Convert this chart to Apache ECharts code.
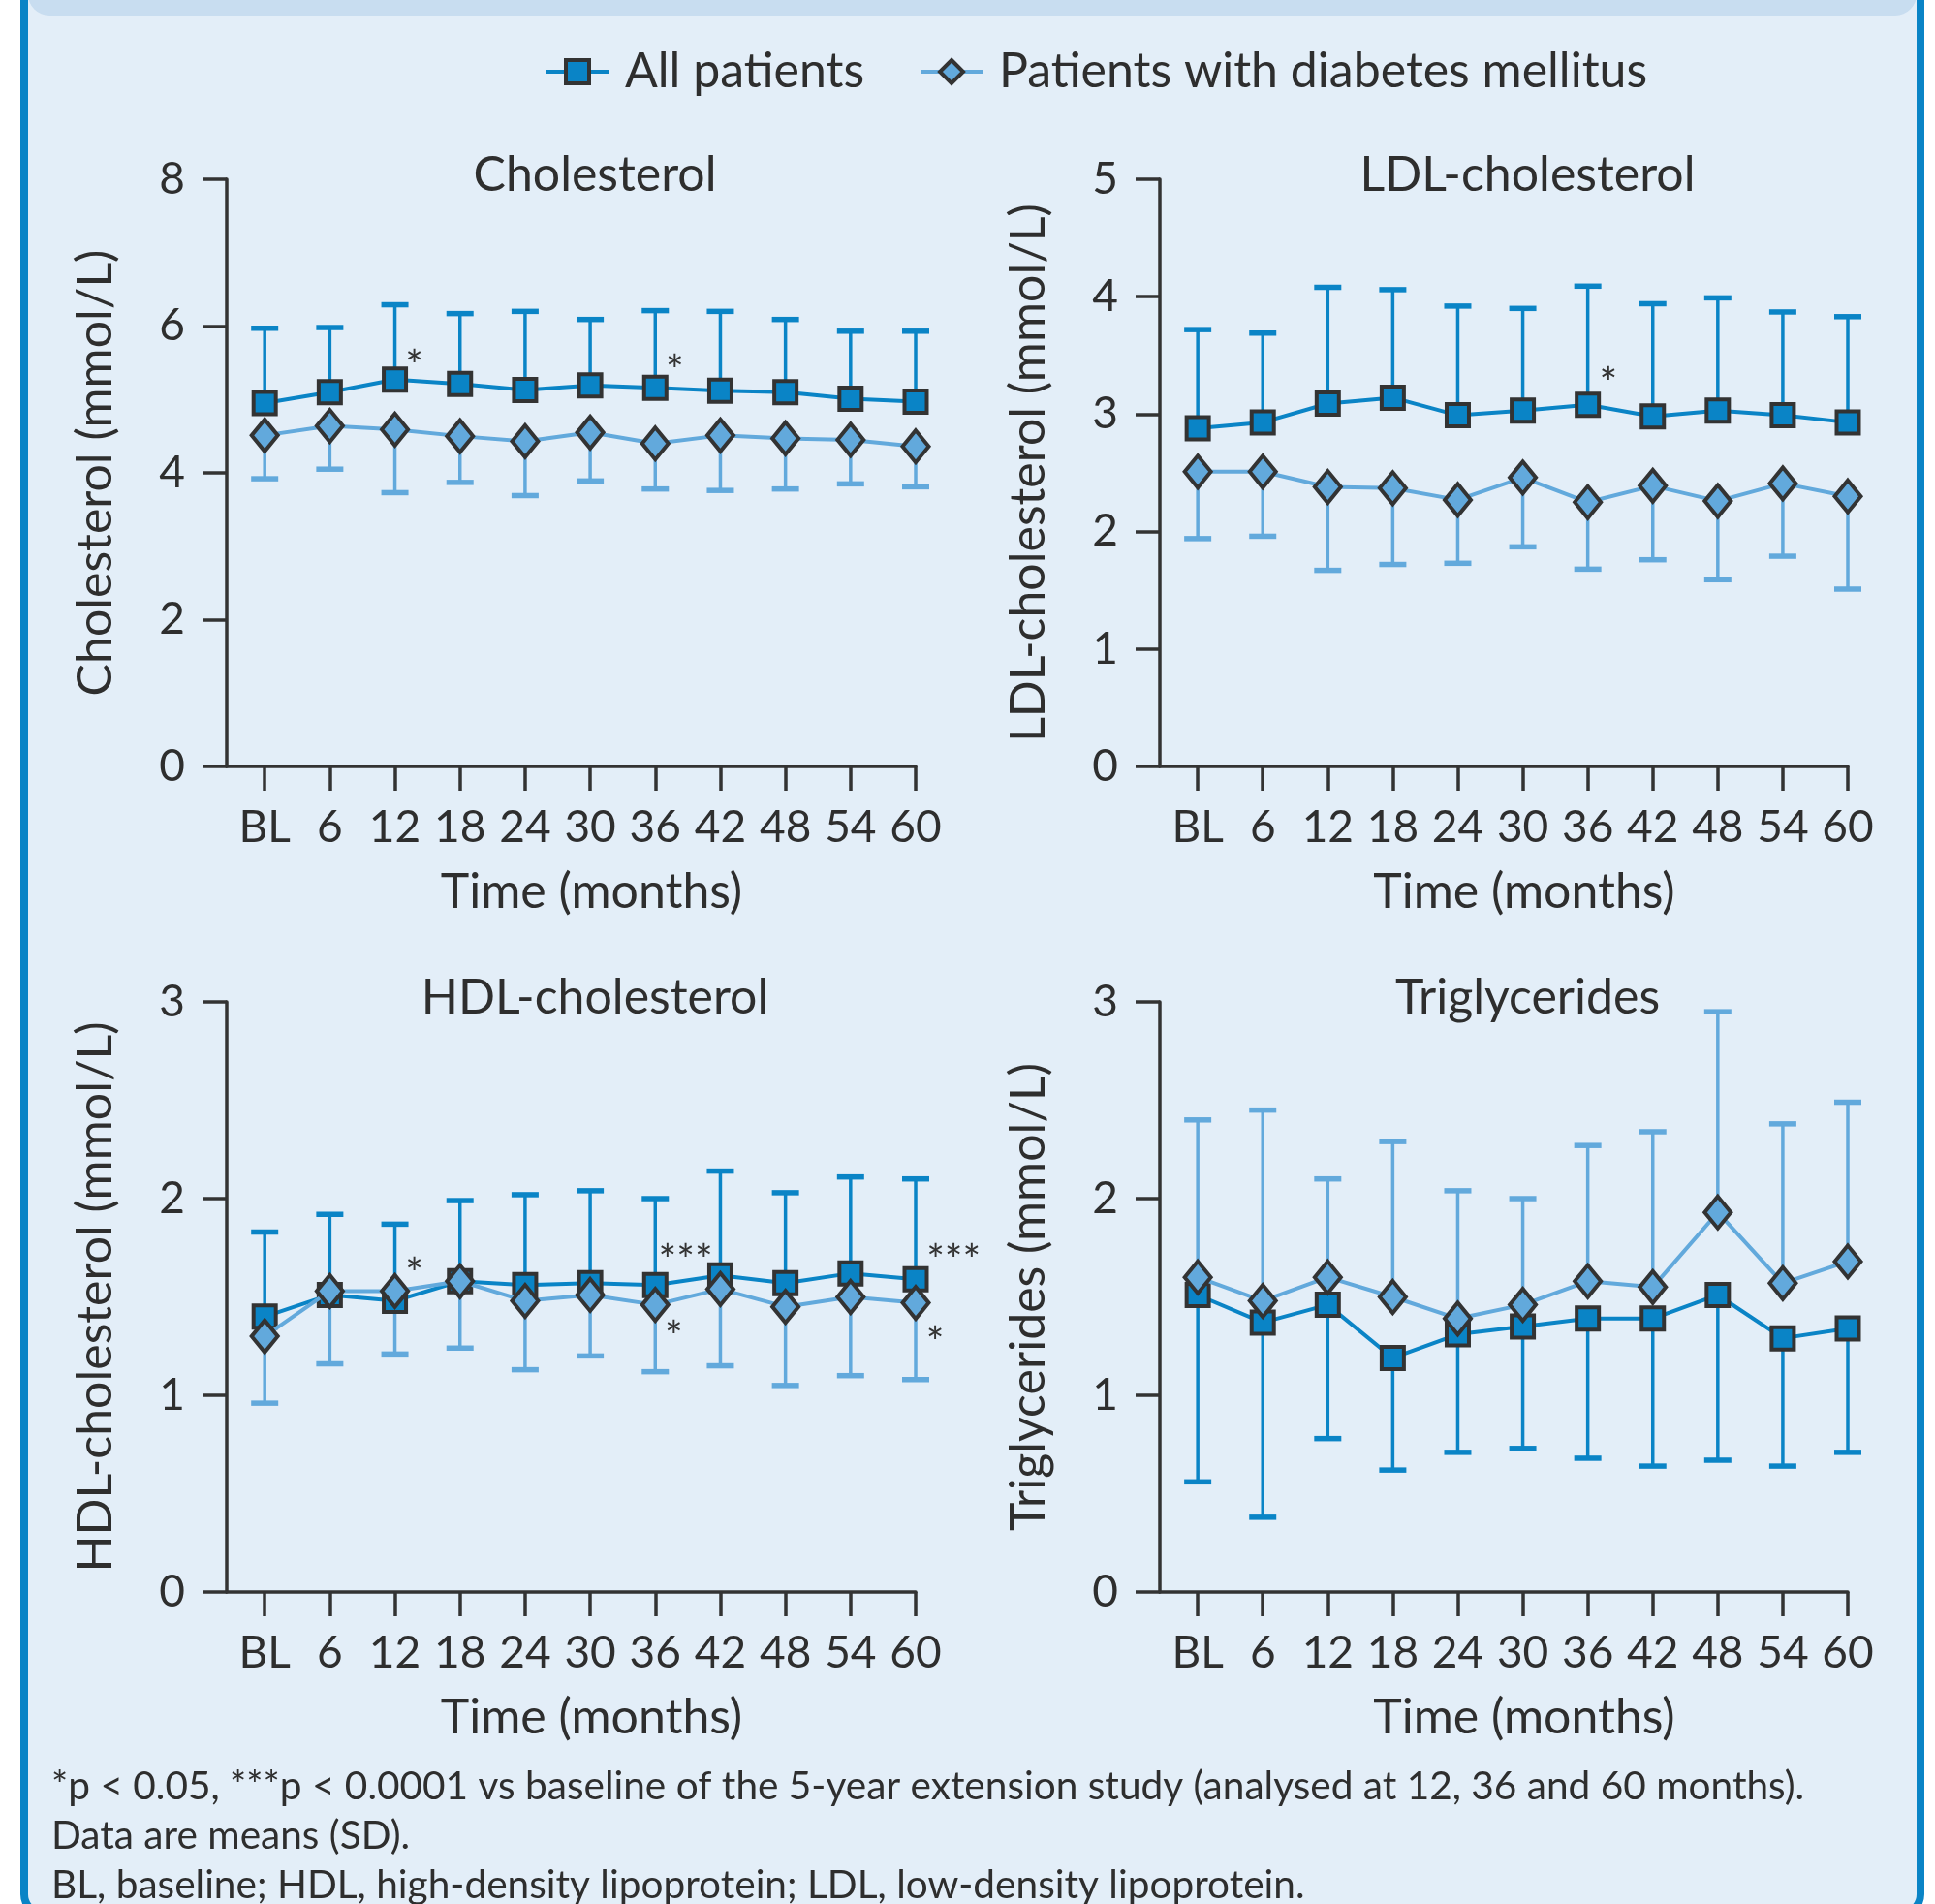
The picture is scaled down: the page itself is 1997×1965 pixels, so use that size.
<!DOCTYPE html>
<html><head><meta charset="utf-8">
<script src="https://cdn.jsdelivr.net/npm/echarts@6/dist/echarts.min.js"></script>
<style>html,body{margin:0;padding:0;background:#fff}#c{width:1997px;height:1965px}</style>
</head><body><div id="c"></div>
<script>
// ---- data ----
const months = [0, 6, 12, 18, 24, 30, 36, 42, 48, 54, 60];
const tickLabels = ['BL', '6', '12', '18', '24', '30', '36', '42', '48', '54', '60'];

const cholAll      = [4.95, 5.10, 5.27, 5.21, 5.13, 5.19, 5.16, 5.12, 5.10, 5.01, 4.97];
const cholAllUpper = [5.97, 5.98, 6.29, 6.17, 6.20, 6.09, 6.21, 6.20, 6.09, 5.93, 5.93];
const cholDm       = [4.51, 4.64, 4.59, 4.50, 4.43, 4.55, 4.40, 4.51, 4.47, 4.45, 4.36];
const cholDmLower  = [3.92, 4.05, 3.73, 3.87, 3.69, 3.89, 3.78, 3.76, 3.78, 3.85, 3.81];

const ldlAll      = [2.88, 2.93, 3.09, 3.14, 2.99, 3.03, 3.08, 2.98, 3.03, 2.99, 2.93];
const ldlAllUpper = [3.72, 3.69, 4.08, 4.06, 3.92, 3.90, 4.09, 3.94, 3.99, 3.87, 3.83];
const ldlDm       = [2.51, 2.51, 2.38, 2.37, 2.27, 2.46, 2.25, 2.39, 2.26, 2.41, 2.30];
const ldlDmLower  = [1.94, 1.96, 1.67, 1.72, 1.73, 1.87, 1.68, 1.76, 1.59, 1.79, 1.51];

const hdlAll      = [1.40, 1.51, 1.48, 1.58, 1.56, 1.57, 1.56, 1.61, 1.57, 1.62, 1.59];
const hdlAllUpper = [1.83, 1.92, 1.87, 1.99, 2.02, 2.04, 2.00, 2.14, 2.03, 2.11, 2.10];
const hdlDm       = [1.30, 1.53, 1.53, 1.58, 1.48, 1.51, 1.46, 1.54, 1.45, 1.50, 1.47];
const hdlDmLower  = [0.96, 1.16, 1.21, 1.24, 1.13, 1.20, 1.12, 1.15, 1.05, 1.10, 1.08];

const tgAll      = [1.51, 1.37, 1.46, 1.19, 1.31, 1.35, 1.39, 1.39, 1.51, 1.29, 1.34];
const tgAllLower = [0.56, 0.38, 0.78, 0.62, 0.71, 0.73, 0.68, 0.64, 0.67, 0.64, 0.71];
const tgDm       = [1.60, 1.48, 1.60, 1.50, 1.39, 1.46, 1.58, 1.55, 1.93, 1.57, 1.68];
const tgDmUpper  = [2.40, 2.45, 2.10, 2.29, 2.04, 2.00, 2.27, 2.34, 2.95, 2.38, 2.49];

// significance markers: [month position, value, text]
const cholStars = [[13.8, 5.60, '*'], [37.8, 5.53, '*']];
const ldlStars  = [[37.9, 3.35, '*']];
const hdlStars  = [[13.8, 1.67, '*'], [38.8, 1.74, '***'], [37.7, 1.35, '*'], [63.5, 1.74, '***'], [61.8, 1.32, '*']];
const tgStars   = [];

const footnotes = [
  '*p < 0.05, ***p < 0.0001 vs baseline of the 5-year extension study (analysed at 12, 36 and 60 months).',
  'Data are means (SD).',
  'BL, baseline; HDL, high-density lipoprotein; LDL, low-density lipoprotein.'
];

// ---- style ----
const FONT = 'Lato';
const C_ALL = '#0a84c6', C_DM = '#62a9dc', DARK = '#333333', TXT = '#2e2e2e';
const NAME_ALL = 'All patients', NAME_DM = 'Patients with diabetes mellitus';

const panels = [
  {grid: {left: 234, top: 185, width: 711, height: 606}, max: 8, interval: 2, title: 'Cholesterol', yName: 'Cholesterol (mmol/L)',
   all: cholAll, allEnd: cholAllUpper, dm: cholDm, dmEnd: cholDmLower, stars: cholStars},
  {grid: {left: 1197, top: 185, width: 710, height: 606}, max: 5, interval: 1, title: 'LDL-cholesterol', yName: 'LDL-cholesterol (mmol/L)',
   all: ldlAll, allEnd: ldlAllUpper, dm: ldlDm, dmEnd: ldlDmLower, stars: ldlStars},
  {grid: {left: 234, top: 1034, width: 711, height: 609}, max: 3, interval: 1, title: 'HDL-cholesterol', yName: 'HDL-cholesterol (mmol/L)',
   all: hdlAll, allEnd: hdlAllUpper, dm: hdlDm, dmEnd: hdlDmLower, stars: hdlStars},
  {grid: {left: 1197, top: 1034, width: 710, height: 609}, max: 3, interval: 1, title: 'Triglycerides', yName: 'Triglycerides (mmol/L)',
   all: tgAll, allEnd: tgAllLower, dm: tgDm, dmEnd: tgDmUpper, stars: tgStars}
];

function errRender(color) {
  return function (params, api) {
    const x = api.value(0), m = api.value(1), e = api.value(2);
    const p0 = api.coord([x, m]), p1 = api.coord([x, e]);
    return {type: 'group', children: [
      {type: 'line', shape: {x1: p0[0], y1: p0[1], x2: p1[0], y2: p1[1]}, style: {stroke: color, lineWidth: 3.5}},
      {type: 'line', shape: {x1: p1[0] - 14, y1: p1[1], x2: p1[0] + 14, y2: p1[1]}, style: {stroke: color, lineWidth: 5.5}}
    ]};
  };
}
function starRender(stars) {
  return function (params, api) {
    const p = api.coord([api.value(0), api.value(1)]);
    return {type: 'text', x: p[0], y: p[1] + 12,
      style: {text: stars[params.dataIndex][2], fill: DARK, font: '44px ' + FONT, align: 'center', verticalAlign: 'middle'}};
  };
}

const axisLineStyle = {color: DARK, width: 3.5};
const grids = [], xAxes = [], yAxes = [], titles = [], series = [];
panels.forEach((p, i) => {
  grids.push(p.grid);
  titles.push({text: p.title, left: p.grid.left + 39 + (p.grid.width - 39) / 2, top: p.grid.top - 34, textAlign: 'center',
    textStyle: {fontFamily: FONT, fontSize: 50, fontWeight: 'normal', color: TXT}});
  xAxes.push({type: 'value', gridIndex: i, min: -3.5, max: 60,
    name: 'Time (months)', nameLocation: 'middle', nameGap: 105,
    nameTextStyle: {fontFamily: FONT, fontSize: 50, color: TXT, padding: [0, 0, 0, 42]},
    axisLine: {onZero: false, lineStyle: axisLineStyle},
    axisTick: {length: 25, lineStyle: {color: DARK, width: 3.5}, customValues: months},
    axisLabel: {customValues: months, margin: 40, fontFamily: FONT, fontSize: 46, color: TXT,
      formatter: v => tickLabels[months.indexOf(v)] ?? ''},
    splitLine: {show: false}});
  yAxes.push({type: 'value', gridIndex: i, min: 0, max: p.max, interval: p.interval,
    name: p.yName, nameLocation: 'middle', nameGap: 110, nameRotate: 90,
    nameTextStyle: {fontFamily: FONT, fontSize: 50, color: TXT},
    axisLine: {show: true, onZero: false, lineStyle: axisLineStyle},
    axisTick: {show: true, length: 25, lineStyle: {color: DARK, width: 3.5}},
    axisLabel: {margin: 43, fontFamily: FONT, fontSize: 46, color: TXT},
    splitLine: {show: false}});
  series.push({type: 'custom', xAxisIndex: i, yAxisIndex: i, z: 2, clip: false,
    renderItem: errRender(C_ALL), data: months.map((m, k) => [m, p.all[k], p.allEnd[k]]), silent: true});
  series.push({type: 'custom', xAxisIndex: i, yAxisIndex: i, z: 2, clip: false,
    renderItem: errRender(C_DM), data: months.map((m, k) => [m, p.dm[k], p.dmEnd[k]]), silent: true});
  series.push({type: 'line', name: NAME_ALL, xAxisIndex: i, yAxisIndex: i, z: 3,
    data: months.map((m, k) => [m, p.all[k]]),
    symbol: 'rect', symbolSize: 23, showAllSymbol: true,
    lineStyle: {color: C_ALL, width: 4},
    itemStyle: {color: C_ALL, borderColor: DARK, borderWidth: 4}});
  series.push({type: 'line', name: NAME_DM, xAxisIndex: i, yAxisIndex: i, z: 4,
    data: months.map((m, k) => [m, p.dm[k]]),
    symbol: 'diamond', symbolSize: [27, 33], showAllSymbol: true,
    lineStyle: {color: C_DM, width: 4},
    itemStyle: {color: C_DM, borderColor: DARK, borderWidth: 4}});
  if (p.stars.length) {
    series.push({type: 'custom', xAxisIndex: i, yAxisIndex: i, z: 5, clip: false,
      renderItem: starRender(p.stars), data: p.stars.map(s => [s[0], s[1]]), silent: true});
  }
});

const graphics = [
  {type: 'rect', z: -10, shape: {x: 25, y: -40, width: 1957, height: 2015, r: 20},
   style: {fill: '#e3eef8', stroke: C_ALL, lineWidth: 8}},
  {type: 'rect', z: -9, shape: {x: 29, y: -40, width: 1949, height: 56, r: [0, 0, 22, 22]},
   style: {fill: '#c8ddf0'}}
];
footnotes.forEach((t, k) => {
  graphics.push({type: 'text', z: 10, x: 53, y: 1844 + k * 51,
    style: {text: t, fill: TXT, font: '40.6px ' + FONT, verticalAlign: 'middle'}});
});

const chart = echarts.init(document.getElementById('c'), null, {renderer: 'canvas'});
chart.setOption({
  backgroundColor: '#ffffff',
  animation: false,
  title: titles,
  legend: {data: [NAME_ALL, NAME_DM], left: 557, top: 44, itemWidth: 64, itemHeight: 30, itemGap: 56,
    lineStyle: {width: 4}, itemStyle: {borderWidth: 4},
    textStyle: {fontFamily: FONT, fontSize: 50, color: TXT, padding: [0, 0, 0, 12]}},
  grid: grids,
  xAxis: xAxes,
  yAxis: yAxes,
  series: series,
  graphic: graphics
});
</script></body></html>
